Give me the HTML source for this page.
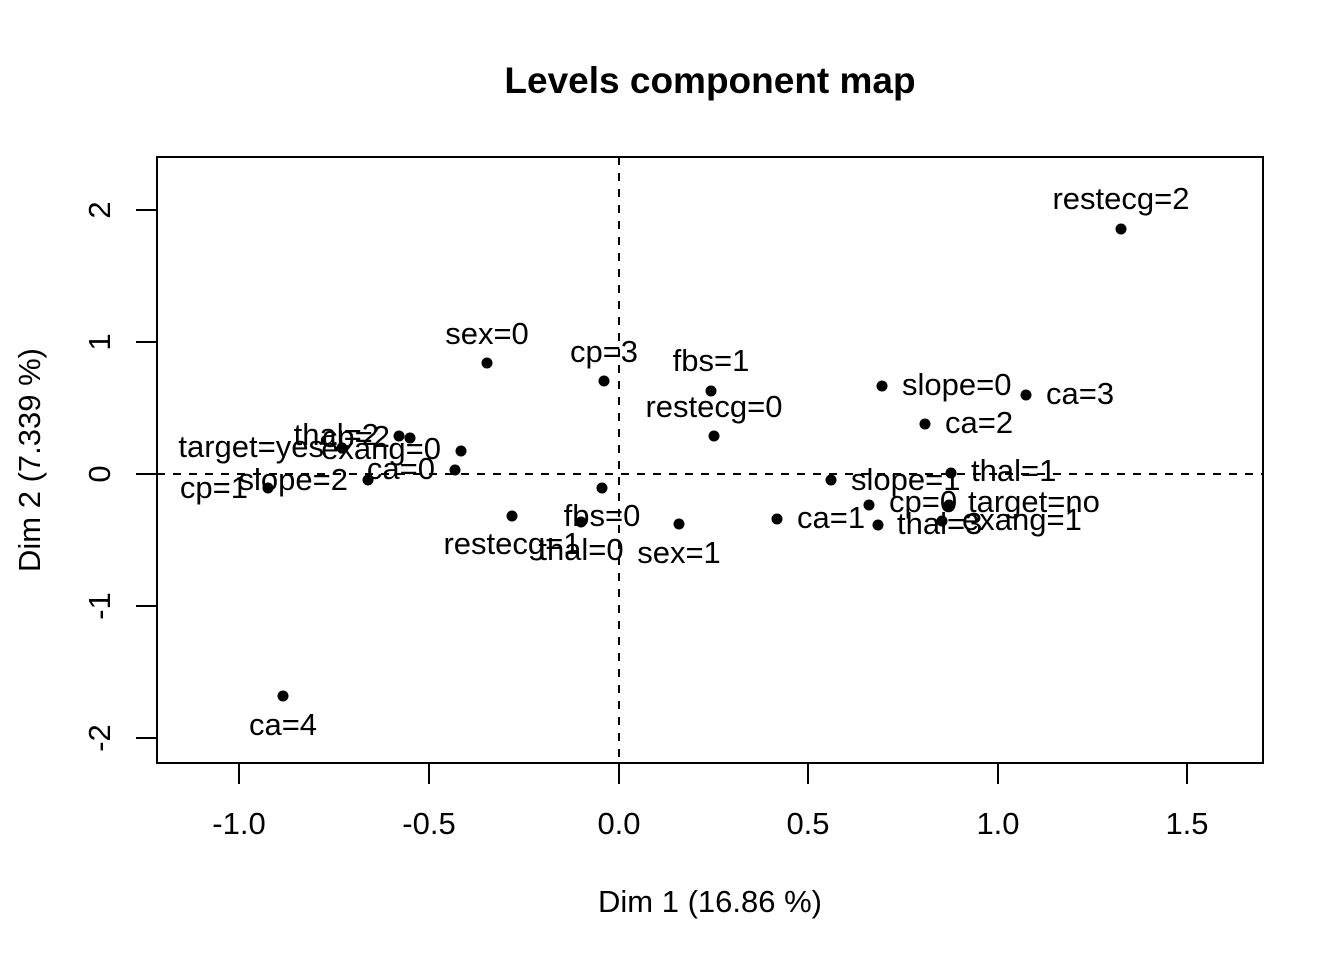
<!DOCTYPE html>
<html><head><meta charset="utf-8"><style>html,body{margin:0;padding:0;background:#fff}svg{display:block}text{font-family:"Liberation Sans",Arial,sans-serif;fill:#000}</style></head>
<body>
<svg width="1344" height="960" viewBox="0 0 1344 960" xmlns="http://www.w3.org/2000/svg">
<rect width="1344" height="960" fill="#fff"/>
<text x="710" y="93" font-size="37" font-weight="bold" text-anchor="middle">Levels component map</text>
<rect x="157" y="157" width="1106" height="606" fill="none" stroke="#000" stroke-width="2"/>
<line x1="619" y1="157" x2="619" y2="763" stroke="#000" stroke-width="2" stroke-dasharray="8,8"/>
<line x1="157" y1="474" x2="1263" y2="474" stroke="#000" stroke-width="2" stroke-dasharray="8,8"/>
<g stroke="#000" stroke-width="2">
<line x1="239" y1="763" x2="1187" y2="763"/>
<line x1="239" y1="763" x2="239" y2="784"/><line x1="429" y1="763" x2="429" y2="784"/><line x1="619" y1="763" x2="619" y2="784"/><line x1="808" y1="763" x2="808" y2="784"/><line x1="998" y1="763" x2="998" y2="784"/><line x1="1187" y1="763" x2="1187" y2="784"/>
<line x1="157" y1="210" x2="157" y2="738"/>
<line x1="136" y1="210" x2="157" y2="210"/><line x1="136" y1="342" x2="157" y2="342"/><line x1="136" y1="474" x2="157" y2="474"/><line x1="136" y1="606" x2="157" y2="606"/><line x1="136" y1="738" x2="157" y2="738"/>
</g>
<g font-size="31" text-anchor="middle">
<text x="239" y="834">-1.0</text><text x="429" y="834">-0.5</text><text x="619" y="834">0.0</text><text x="808" y="834">0.5</text><text x="998" y="834">1.0</text><text x="1187" y="834">1.5</text>
<text x="710" y="912">Dim 1 (16.86 %)</text>
<text transform="translate(110,210) rotate(-90)">2</text>
<text transform="translate(110,342) rotate(-90)">1</text>
<text transform="translate(110,474) rotate(-90)">0</text>
<text transform="translate(110,606) rotate(-90)">-1</text>
<text transform="translate(110,738) rotate(-90)">-2</text>
<text transform="translate(40,460) rotate(-90)">Dim 2 (7.339 %)</text>
</g>
<g fill="#000">
<circle cx="1121" cy="229" r="5.5"/><circle cx="487" cy="363" r="5.5"/><circle cx="604" cy="381" r="5.5"/><circle cx="711" cy="391" r="5.5"/><circle cx="714" cy="436" r="5.5"/>
<circle cx="882" cy="386" r="5.5"/><circle cx="1026" cy="395" r="5.5"/><circle cx="925" cy="424" r="5.5"/><circle cx="951" cy="473" r="5.5"/><circle cx="831" cy="480" r="5.5"/>
<circle cx="869" cy="505" r="5.5"/><circle cx="949" cy="505" r="5.5"/><circle cx="777" cy="519" r="5.5"/><circle cx="878" cy="525" r="5.5"/><circle cx="942" cy="521" r="5.5"/>
<circle cx="679" cy="524" r="5.5"/><circle cx="602" cy="488" r="5.5"/><circle cx="581" cy="522" r="5.5"/><circle cx="512" cy="516" r="5.5"/>
<circle cx="268" cy="488" r="5.5"/><circle cx="368" cy="480" r="5.5"/><circle cx="342" cy="448" r="5.5"/><circle cx="461" cy="451" r="5.5"/><circle cx="455" cy="470" r="5.5"/>
<circle cx="399" cy="436" r="5.5"/><circle cx="410" cy="438" r="5.5"/><circle cx="283" cy="696" r="5.5"/>
</g>
<g font-size="31" text-anchor="middle">
<text x="1121" y="209">restecg=2</text><text x="487" y="344">sex=0</text><text x="604" y="362">cp=3</text><text x="711" y="371">fbs=1</text><text x="714" y="417">restecg=0</text>
<text x="679" y="563">sex=1</text><text x="602" y="526">fbs=0</text><text x="581" y="560">thal=0</text><text x="512" y="554">restecg=1</text>
<text x="283" y="735">ca=4</text>
</g>
<g font-size="31">
<text x="902" y="395">slope=0</text><text x="1046" y="404">ca=3</text><text x="945" y="433">ca=2</text><text x="971" y="481">thal=1</text><text x="851" y="490">slope=1</text>
<text x="889" y="512">cp=0</text><text x="968" y="512">target=no</text><text x="797" y="528">ca=1</text><text x="897" y="534">thal=3</text><text x="962" y="530">exang=1</text>
</g>
<g font-size="31" text-anchor="end">
<text x="248" y="498">cp=1</text><text x="348" y="490">slope=2</text><text x="324" y="457">target=yes</text><text x="441" y="459">exang=0</text><text x="435" y="479">ca=0</text>
<text x="379" y="445">thal=2</text><text x="390" y="447">cp=2</text>
</g>
</svg>
</body></html>
